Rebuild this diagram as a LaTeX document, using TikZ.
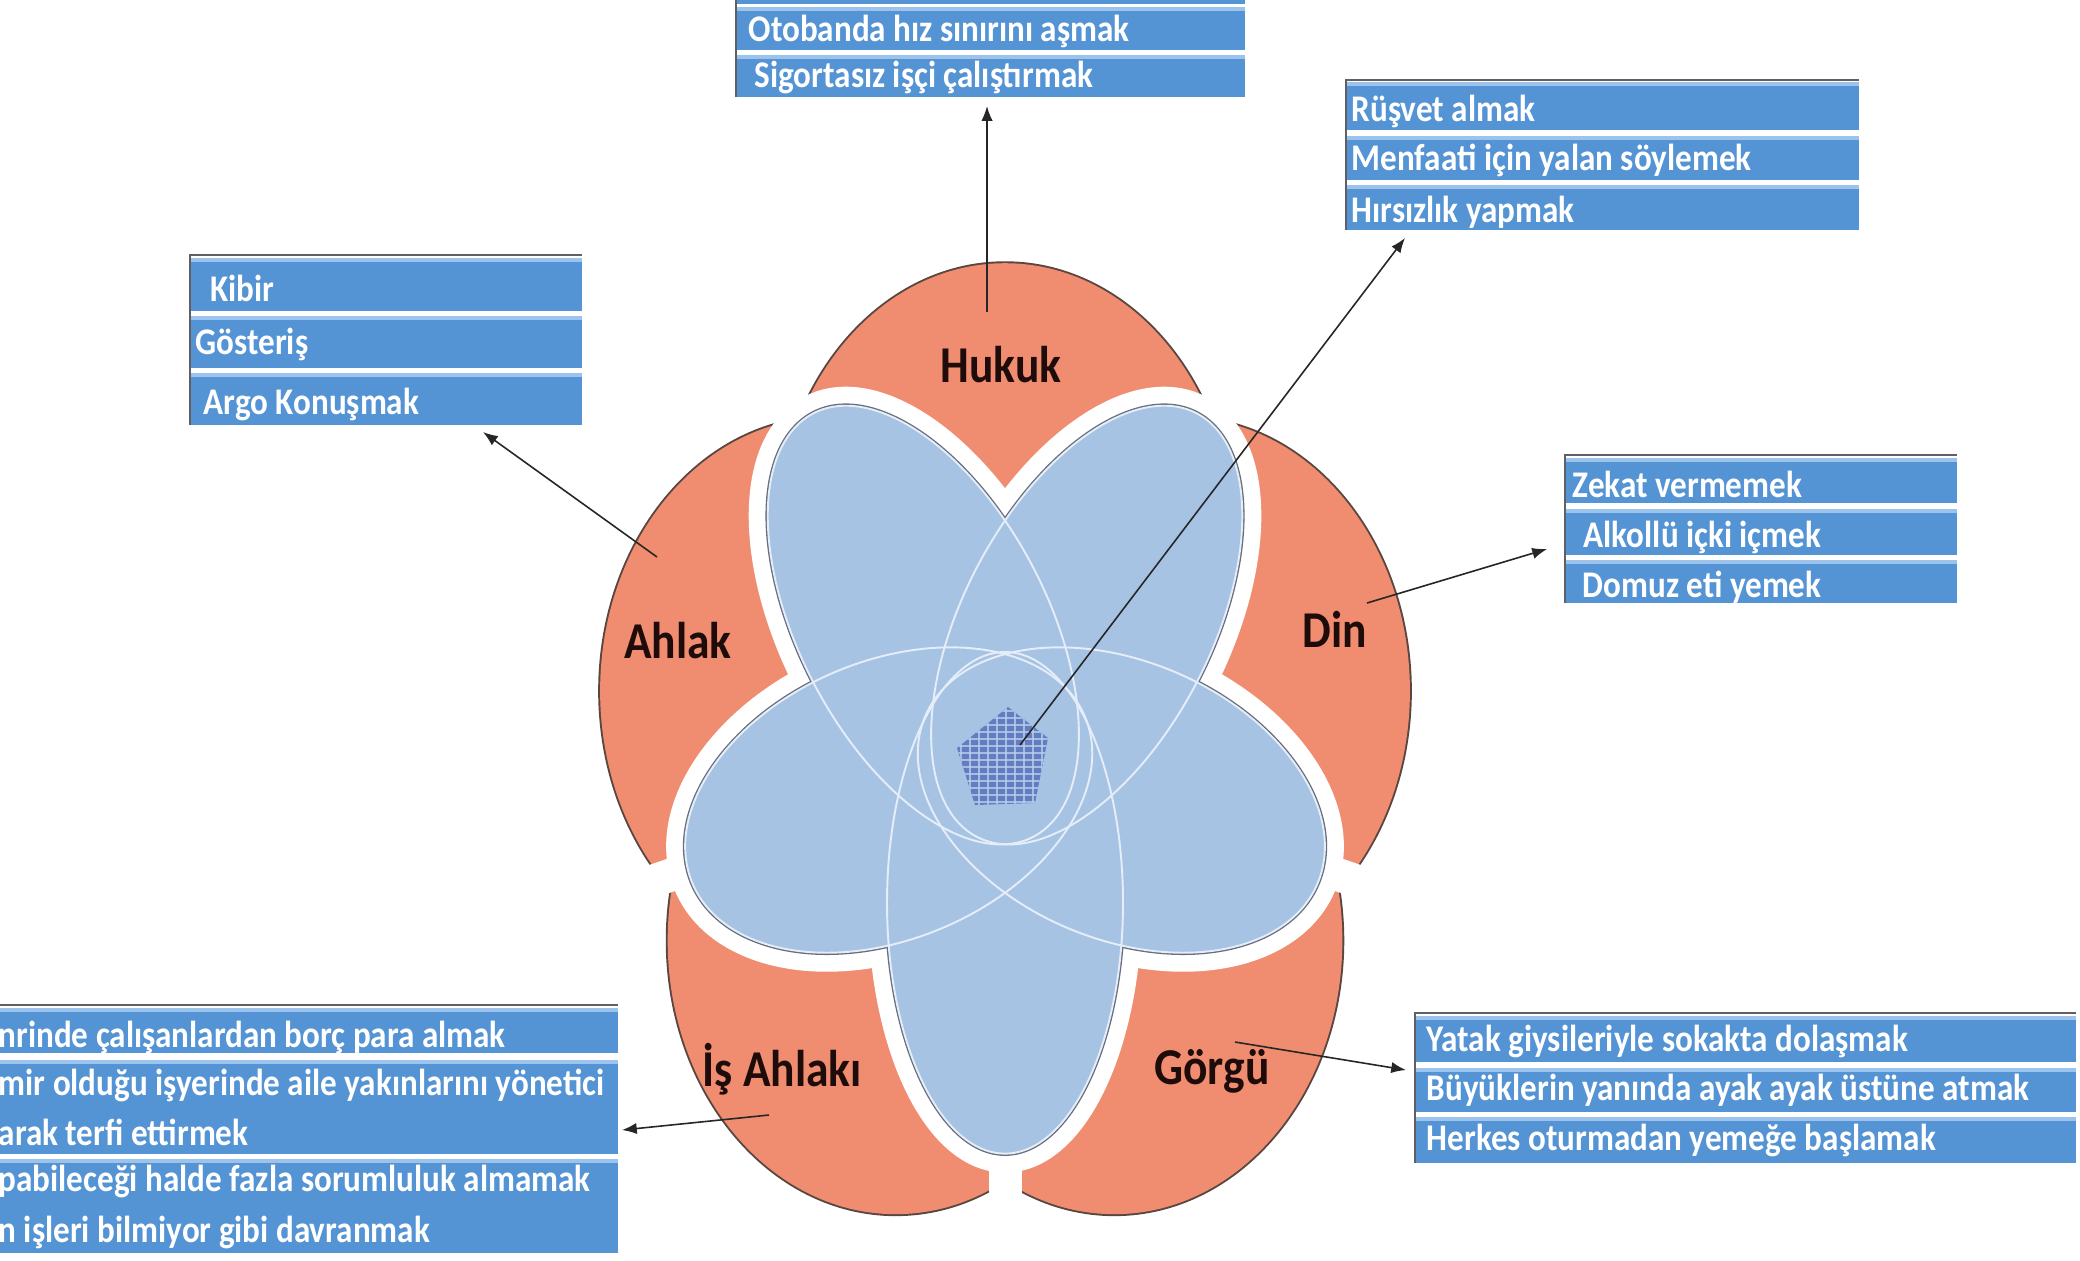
\documentclass[tikz,border=0pt]{standalone}
\usepackage{fontspec}
\setmainfont{Carlito}[FakeStretch=0.88]
\usetikzlibrary{arrows.meta}
\definecolor{salmon}{RGB}{240,141,112}
\definecolor{salmonedge}{RGB}{90,70,65}
\definecolor{lobe}{RGB}{167,195,228}
\definecolor{lobeline}{RGB}{228,237,248}
\definecolor{lobeedge}{RGB}{105,110,125}
\definecolor{boxblue}{RGB}{84,148,212}
\definecolor{boxhi}{RGB}{155,195,236}
\definecolor{boxedge}{RGB}{95,95,100}
\definecolor{corefill}{RGB}{98,126,192}
\definecolor{coregrid}{RGB}{185,204,236}
\definecolor{labeltext}{RGB}{30,12,10}
\newcommand{\rowbar}[4]{%
  \fill[boxhi] (#1,#2) rectangle (#3,#2+4);
  \fill[boxblue] (#1,#2+4) rectangle (#3,#4);}
\newcommand{\lobelist}{126/139, 54/139, -16/121, -90/119, 196/121}
\tikzset{
  rowtext/.style={anchor=base west, inner sep=0pt, text=white,
    font=\fontsize{10.7}{12}\selectfont\bfseries},
  petaltext/.style={anchor=base, inner sep=0pt, text=labeltext,
    font=\fontsize{14.7}{16}\selectfont\bfseries},
  link/.style={draw=black!85, line width=0.45pt, -{Latex[length=4.2pt,width=3.2pt]}},
  boxborder/.style={draw=boxedge, line width=0.8pt},
}
\begin{document}
\begin{tikzpicture}[x=0.01cm,y=-0.01cm]
\useasboundingbox (0,0) rectangle (2080,1260);
\clip (0,0) rectangle (2080,1260);
\fill[white] (0,0) rectangle (2080,1260);

% ---------------- flower ----------------
\begin{scope}[shift={(1005,760)}, yscale=-1.2]
  \foreach \a in {90,18,-54,-126,162}
    \draw[draw=salmonedge, line width=1.1pt] (\a:186) circle [radius=228];
  \foreach \a in {90,18,-54,-126,162}
    \fill[salmon] (\a:186) circle [radius=228];
  % white gaps between neighbouring petals
  \foreach \a/\c in \lobelist
    \draw[white, line width=0.33cm] (\a:250) -- (\a:430);
  \foreach \a/\c in \lobelist
    \draw[white, line width=0.38cm, rotate=-\a] (\c,0) ellipse [x radius=209, y radius=118];
  \foreach \a/\c in \lobelist
    \draw[lobeedge, line width=1.3pt, rotate=-\a] (\c,0) ellipse [x radius=209, y radius=118];
  \foreach \a/\c in \lobelist
    \fill[lobe, rotate=-\a] (\c,0) ellipse [x radius=209, y radius=118];
  \foreach \a/\c in \lobelist
    \draw[lobeline, line width=0.55pt, rotate=-\a] (\c,0) ellipse [x radius=209, y radius=118];
\end{scope}

% centre pentagon
\fill[corefill] (1008,707) -- (1048,738) -- (1035,803) -- (975,805) -- (957,748) -- cycle;
\begin{scope}
  \clip (1008,707) -- (1048,738) -- (1035,803) -- (975,805) -- (957,748) -- cycle;
  \foreach \i in {0,...,12}
    \draw[coregrid, line width=0.35pt, opacity=0.8] (952+\i*9,700) -- (952+\i*9,810);
  \foreach \i in {0,...,15}
    \draw[coregrid, line width=0.35pt, opacity=0.8] (950,704+\i*7) -- (1055,704+\i*7);
\end{scope}

% petal labels
\node[petaltext] (hukuk) at (1001,382) {Hukuk};
\node[petaltext] (ahlak) at (678,658) {Ahlak};
\node[petaltext] (din) at (1335,647) {Din};
\node[petaltext] (gorgu) at (1212,1084) {Görgü};
\node[petaltext] (isahlak) at (782,1086) {İş Ahlakı};

% ---------------- boxes ----------------
% Hukuk box (top)
\rowbar{736}{-40}{1245}{4}
\rowbar{736}{7}{1245}{50}
\rowbar{736}{55}{1245}{97}
\draw[boxborder] (736,0) -- (736,97);
\node[rowtext] (hk1) at (748,41) {Otobanda hız sınırını aşmak};
\node[rowtext] (hk2) at (754,87) {Sigortasız işçi çalıştırmak};

% centre box (top right)
\rowbar{1346}{82}{1859}{130}
\rowbar{1346}{136}{1859}{180}
\rowbar{1346}{185}{1859}{230}
\draw[boxborder] (1346,230) -- (1346,80) -- (1859,80);
\node[rowtext] (rs1) at (1351,121) {Rüşvet almak};
\node[rowtext] (rs2) at (1351,170) {Menfaati için yalan söylemek};
\node[rowtext] (rs3) at (1351,222) {Hırsızlık yapmak};

% Ahlak box
\rowbar{190}{258}{582}{311}
\rowbar{190}{316}{582}{368}
\rowbar{190}{373}{582}{425}
\draw[boxborder] (190,425) -- (190,255) -- (582,255);
\node[rowtext] (kb1) at (210,301) {Kibir};
\node[rowtext] (kb2) at (195,354) {Gösteriş};
\node[rowtext] (kb3) at (203,414) {Argo Konuşmak};

% Din box
\rowbar{1565}{458}{1957}{503}
\rowbar{1565}{509}{1957}{555}
\rowbar{1565}{560}{1957}{603}
\draw[boxborder] (1565,603) -- (1565,455) -- (1957,455);
\node[rowtext] (zk1) at (1572,497) {Zekat vermemek};
\node[rowtext] (zk2) at (1583,547) {Alkollü içki içmek};
\node[rowtext] (zk3) at (1582,597) {Domuz eti yemek};

% Is Ahlaki box (bottom left, cut by the edge)
\rowbar{-30}{1008}{618}{1053}
\rowbar{-30}{1060}{618}{1154}
\rowbar{-30}{1159}{618}{1253}
\draw[boxborder] (-30,1005) -- (618,1005);
\node[rowtext] (ia1) at (-2,1047) {nrinde çalışanlardan borç para almak};
\node[rowtext] (ia2) at (-2,1095) {mir olduğu işyerinde aile yakınlarını yönetici};
\node[rowtext] (ia3) at (-2,1145) {arak terfi ettirmek};
\node[rowtext] (ia4) at (-2,1191) {pabileceği halde fazla sorumluluk almamak};
\node[rowtext] (ia5) at (-2,1242) {n işleri bilmiyor gibi davranmak};

% Gorgu box
\rowbar{1415}{1016}{2076}{1062}
\rowbar{1415}{1068}{2076}{1112}
\rowbar{1415}{1117}{2076}{1163}
\draw[boxborder] (1415,1163) -- (1415,1013) -- (2076,1013);
\node[rowtext] (gg1) at (1426,1051) {Yatak giysileriyle sokakta dolaşmak};
\node[rowtext] (gg2) at (1426,1100) {Büyüklerin yanında ayak ayak üstüne atmak};
\node[rowtext] (gg3) at (1426,1150) {Herkes oturmadan yemeğe başlamak};

% ---------------- connectors ----------------
\coordinate (hkS) at (987,312);   \coordinate (hkT) at (987,106);
\coordinate (coreS) at (1020,745); \coordinate (coreT) at (1405,238);
\coordinate (ahS) at (657,557);   \coordinate (ahT) at (483,432);
\coordinate (dnS) at (1367,603);  \coordinate (dnT) at (1547,549);
\coordinate (isS) at (769,1115);  \coordinate (isT) at (622,1130);
\coordinate (ggS) at (1235,1042); \coordinate (ggT) at (1406,1070);
\draw[link] (hkS) -- (hkT);
\draw[link] (coreS) -- (coreT);
\draw[link] (ahS) -- (ahT);
\draw[link] (dnS) -- (dnT);
\draw[link] (isS) -- (isT);
\draw[link] (ggS) -- (ggT);
\end{tikzpicture}
\end{document}
